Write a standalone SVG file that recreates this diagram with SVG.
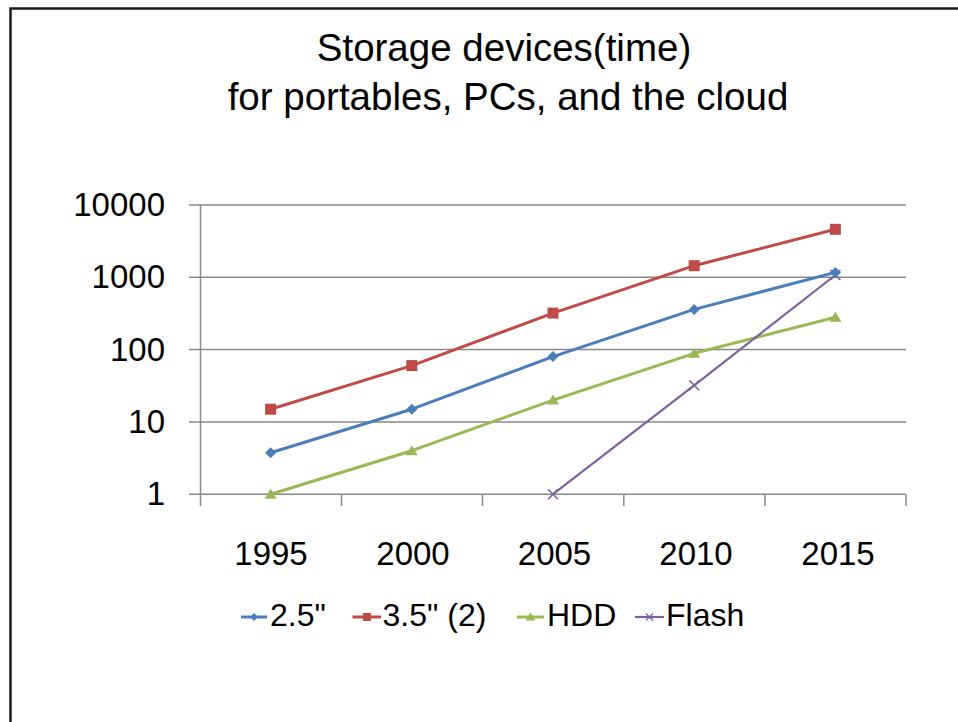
<svg xmlns="http://www.w3.org/2000/svg" width="958" height="722" viewBox="0 0 958 722">
  <style>
    text { font-family: "Liberation Sans", Arial, sans-serif; fill: #000; }
    .title { font-size: 38.5px; text-anchor: middle; }
    .ylab { font-size: 33px; text-anchor: end; }
    .xlab { font-size: 33px; text-anchor: middle; }
    .leg { font-size: 32px; }
    .grid { stroke: #898989; stroke-width: 1.5; fill: none; }
    .frame { stroke: #1a1a1a; stroke-width: 2.5; fill: none; }
    .s-blue { stroke: #4a7ebb; fill: none; stroke-width: 3; stroke-linejoin: round; }
    .s-red { stroke: #be4b48; fill: none; stroke-width: 3; stroke-linejoin: round; }
    .s-green { stroke: #98b954; fill: none; stroke-width: 3; stroke-linejoin: round; }
    .s-purple { stroke: #7d60a0; fill: none; stroke-width: 2.2; stroke-linejoin: round; }
  </style>
  <defs>
    <path id="m-diamond" d="M0,-5.5 L5.5,0 L0,5.5 L-5.5,0Z" fill="#4a7ebb"/>
    <rect id="m-square" x="-5.5" y="-5.5" width="11" height="11" fill="#be4b48"/>
    <path id="m-triangle" d="M0,-5.5 L6,4.5 L-6,4.5Z" fill="#98b954"/>
    <path id="m-cross" d="M-5,-5 L5,5 M-5,5 L5,-5" stroke="#7d60a0" stroke-width="1.6" fill="none"/>
    <path id="l-diamond" d="M0,-4 L4,0 L0,4 L-4,0Z" fill="#4a7ebb"/>
    <rect id="l-square" x="-4" y="-4" width="8" height="8" fill="#be4b48"/>
    <path id="l-triangle" d="M0,-4.5 L5,3.5 L-5,3.5Z" fill="#98b954"/>
    <path id="l-cross" d="M-3.5,-3.5 L3.5,3.5 M-3.5,3.5 L3.5,-3.5" stroke="#7d60a0" stroke-width="1.3" fill="none"/>
  </defs>

  <rect x="0" y="0" width="958" height="722" fill="#fff"/>

  <!-- slide frame: top and left edges -->
  <g id="frame">
    <path class="frame" d="M10.5,722 L10.5,8.5 L958,8.5"/>
  </g>

  <g id="title">
    <text class="title" x="504" y="61">Storage devices(time)</text>
    <text class="title" x="508" y="110">for portables, PCs, and the cloud</text>
  </g>

  <!-- plot area: log-scale gridlines, axis and category ticks -->
  <g id="axes">
    <path class="grid" d="M189,205 H906 M189,277.3 H906 M189,349.6 H906 M189,421.9 H906 M189,494.2 H906"/>
    <path class="grid" d="M200.5,205 V506 M341.5,494.2 V506 M482.5,494.2 V506 M623.8,494.2 V506 M765,494.2 V506 M906,494.2 V506"/>
  </g>

  <g id="y-labels">
    <text class="ylab" x="165" y="216">10000</text>
    <text class="ylab" x="165" y="288.3">1000</text>
    <text class="ylab" x="165" y="360.6">100</text>
    <text class="ylab" x="165" y="432.9">10</text>
    <text class="ylab" x="165" y="505.2">1</text>
  </g>

  <g id="x-labels">
    <text class="xlab" x="271" y="565">1995</text>
    <text class="xlab" x="413" y="565">2000</text>
    <text class="xlab" x="554.5" y="565">2005</text>
    <text class="xlab" x="696" y="565">2010</text>
    <text class="xlab" x="838" y="565">2015</text>
  </g>

  <!-- data series -->
  <g id="series-hdd">
    <polyline class="s-green" points="270.6,494.2 411.8,450.7 553,400.1 694.2,353.3 835.4,317.3"/>
    <use href="#m-triangle" x="270.6" y="494.2"/>
    <use href="#m-triangle" x="411.8" y="450.7"/>
    <use href="#m-triangle" x="553" y="400.1"/>
    <use href="#m-triangle" x="694.2" y="353.3"/>
    <use href="#m-triangle" x="835.4" y="317.3"/>
  </g>
  <g id="series-flash">
    <polyline class="s-purple" points="553,494.2 694.2,385.3 835.4,275"/>
    <use href="#m-cross" x="553" y="494.2"/>
    <use href="#m-cross" x="694.2" y="385.3"/>
    <use href="#m-cross" x="835.4" y="275"/>
  </g>
  <g id="series-35">
    <polyline class="s-red" points="270.6,409.2 411.8,365.6 553,313.1 694.2,265.7 835.4,229.3"/>
    <use href="#m-square" x="270.6" y="409.2"/>
    <use href="#m-square" x="411.8" y="365.6"/>
    <use href="#m-square" x="553" y="313.1"/>
    <use href="#m-square" x="694.2" y="265.7"/>
    <use href="#m-square" x="835.4" y="229.3"/>
  </g>
  <g id="series-25">
    <polyline class="s-blue" points="270.6,452.7 411.8,409.2 553,356.6 694.2,309.4 835.4,272.4"/>
    <use href="#m-diamond" x="270.6" y="452.7"/>
    <use href="#m-diamond" x="411.8" y="409.2"/>
    <use href="#m-diamond" x="553" y="356.6"/>
    <use href="#m-diamond" x="694.2" y="309.4"/>
    <use href="#m-diamond" x="835.4" y="272.4"/>
  </g>

  <!-- legend -->
  <g id="legend">
    <g id="legend-25">
      <path class="s-blue" d="M241,617 H267"/>
      <use href="#l-diamond" x="254" y="617"/>
      <text class="leg" x="270" y="626">2.5"</text>
    </g>
    <g id="legend-35">
      <path class="s-red" d="M352.5,617 H381"/>
      <use href="#l-square" x="367" y="617"/>
      <text class="leg" x="382.5" y="626">3.5" (2)</text>
    </g>
    <g id="legend-hdd">
      <path class="s-green" d="M517,617 H544"/>
      <use href="#l-triangle" x="530.5" y="617"/>
      <text class="leg" x="547" y="626">HDD</text>
    </g>
    <g id="legend-flash">
      <path class="s-purple" d="M635,617 H664"/>
      <use href="#l-cross" x="649.5" y="617"/>
      <text class="leg" x="666" y="626">Flash</text>
    </g>
  </g>
</svg>
